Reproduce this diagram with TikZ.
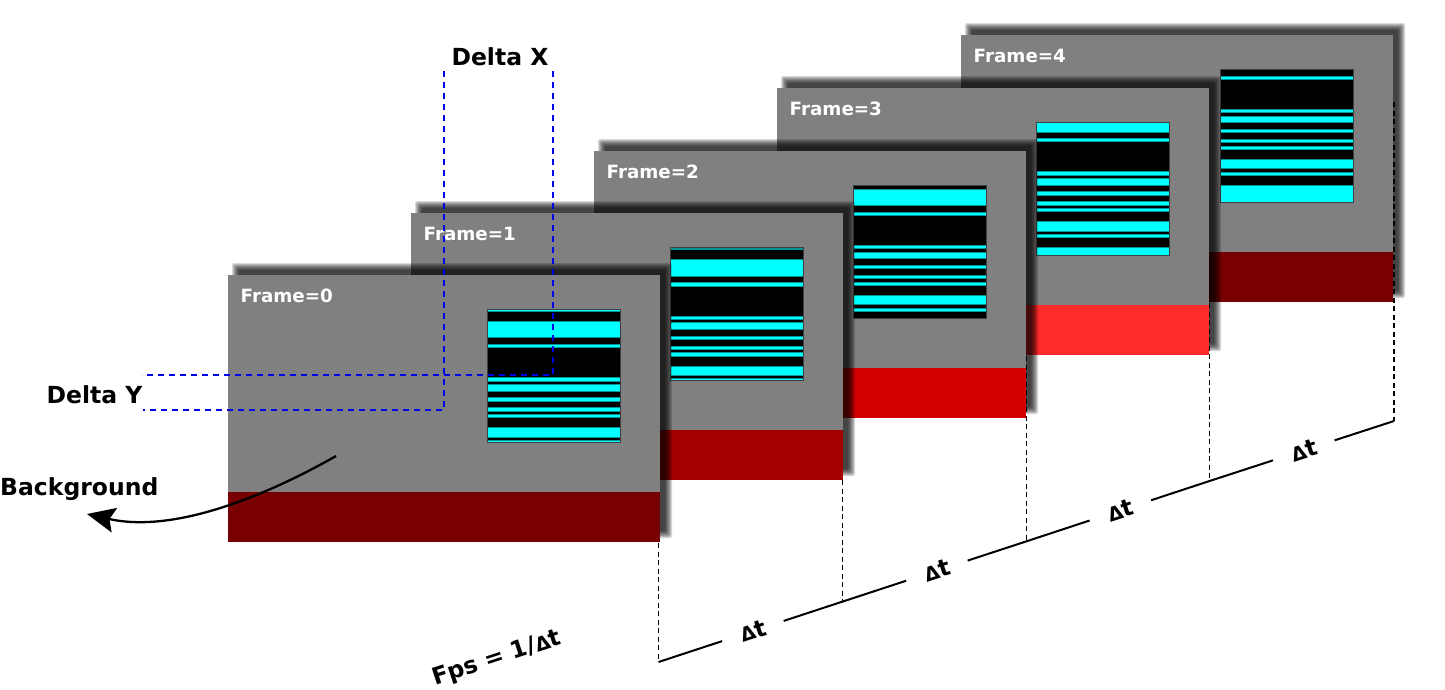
\documentclass[tikz,border=0pt]{standalone}
\usepackage{fontspec}
\setmainfont{DejaVu Sans}
\usetikzlibrary{arrows.meta}
\definecolor{fgray}{RGB}{128,128,128}
\definecolor{redA}{RGB}{120,0,0}
\definecolor{redB}{RGB}{165,0,0}
\definecolor{redC}{RGB}{212,0,0}
\definecolor{redD}{RGB}{255,42,42}
\definecolor{stripe}{RGB}{0,255,255}
\definecolor{stripeedge}{RGB}{0,150,150}
\definecolor{dblue}{RGB}{0,0,235}
\newcommand{\smD}{{\fontsize{19.5}{20}\selectfont Δ}}
\newcommand{\drawframe}[6]{%
 \begin{scope}[shift={(#1,#2)}]
  \foreach \r in {-3,...,4}
    \fill[black,opacity=0.15,rounded corners=2pt] (8-\r,-8-\r) rectangle (440+\r,259+\r);
  \fill[fgray] (0,0) rectangle (432,267);
  \fill[#3] (0,217) rectangle (432,267);
  \node[framelabel] (#6) at (12.5,27.5) {Frame=#4};
  \begin{scope}[shift={(259,34.5)}]
    \clip (0,0) rectangle (133,133);
    \fill[black] (0,0) rectangle (133,133);
    \foreach \a/\b in {-2.5/-2, 1/6, 8/9, 18/19, 20/22, 24/25, 27/28, 29/30, 33/35.8, 36.8/37.8, 40.8/46}
      \filldraw[fill=stripe,draw=stripeedge,line width=0.6pt] (-1,{(\a+#5)*3.325}) rectangle (134,{(\b+#5)*3.325});
  \end{scope}
  \draw[black!75, line width=0.6pt] (259,34.5) rectangle +(133,133);
 \end{scope}}
\begin{document}
\begin{tikzpicture}[x=1pt,y=-1pt,
  framelabel/.style={anchor=base west,inner sep=0pt,text=white,font=\bfseries\fontsize{18.3}{22}\selectfont},
  biglabel/.style={inner sep=0pt,text=black,font=\bfseries\fontsize{23.5}{28}\selectfont},
  dtl/.style={rotate=18.1,inner xsep=19pt,inner ysep=1pt,font=\bfseries\fontsize{23.5}{24}\selectfont},
  tdash/.style={black,line width=1.6pt,dash pattern=on 5pt off 3.5pt},
  tline/.style={black,line width=2pt},
  bdash/.style={dblue,line width=1.6pt,dash pattern=on 6pt off 5pt}]
\useasboundingbox (0,0) rectangle (1445,689);
\fill[white] (0,0) rectangle (1445,689);

% frames, back to front
\drawframe{961}{35}{redA}{4}{-6}{f4}
\drawframe{777}{88}{redD}{3}{-3.2}{f3}
\drawframe{594}{151}{redC}{2}{0}{f2}
\drawframe{411}{213}{redB}{1}{2.6}{f1}
\drawframe{228}{275}{redA}{0}{2.5}{f0}

% time line
\coordinate (L0) at (658.5,662);
\coordinate (L1) at (842.5,601.6);
\coordinate (L2) at (1026.5,541.3);
\coordinate (L3) at (1209.5,481);
\coordinate (L4) at (1394,421);
\coordinate (T0) at (658.5,543);
\coordinate (T1) at (842.5,480);
\coordinate (T2) at (1026.5,356);
\coordinate (T3) at (1209.5,303);
\coordinate (T4) at (1394,102);
\draw[tdash] (T0) -- (L0);
\draw[tdash] (T1) -- (L1);
\draw[tdash] (T2) -- (L2);
\draw[tdash] (T3) -- (L3);
\draw[tdash] (T4) -- (L4);
\path (L0) -- (L1) node[dtl,pos=0.513] (d1) {\smD t};
\path (L1) -- (L2) node[dtl,pos=0.513] (d2) {\smD t};
\path (L2) -- (L3) node[dtl,pos=0.513] (d3) {\smD t};
\path (L3) -- (L4) node[dtl,pos=0.511] (d4) {\smD t};
\draw[tline] (L0) -- (d1) -- (L1) -- (d2) -- (L2) -- (d3) -- (L3) -- (d4) -- (L4);
\node[biglabel,rotate=18.1] (fps) at (497,659) {Fps = 1/\smD t};

% delta x / delta y
\coordinate (XA) at (444,71);
\coordinate (CA) at (444,410);
\coordinate (EA) at (143,410);
\coordinate (XB) at (553,71);
\coordinate (CB) at (553,375);
\coordinate (EB) at (142,375);
\draw[bdash] (XA) -- (CA) -- (EA);
\draw[bdash] (XB) -- (CB) -- (EB);
\node[biglabel,anchor=base] (dx) at (500,65.7) {Delta X};
\node[biglabel,anchor=base] (dy) at (94.5,403.3) {Delta Y};

% background arrow
\node[biglabel,anchor=base west] (bg) at (0,495) {Background};
\coordinate (BG0) at (336,456);
\coordinate (BG1) at (87,514);
\draw[line width=2.3pt,-{Stealth[length=28pt,width=25pt,inset=5pt]}] (BG0) .. controls (280,488) and (180,535) .. (BG1);
\end{tikzpicture}
\end{document}
